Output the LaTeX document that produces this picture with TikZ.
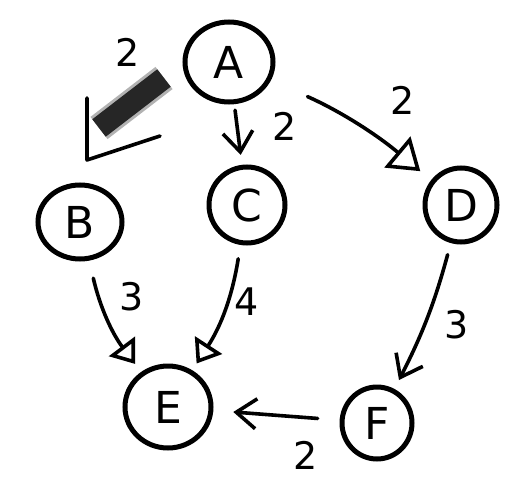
\documentclass[tikz,border=0pt]{standalone}
\usepackage{fontspec}
\setmainfont{DejaVu Sans}
\usetikzlibrary{arrows.meta,shapes.geometric,calc}
\begin{document}
\begin{tikzpicture}[x=1pt,y=-1pt,
  vert/.style={ellipse,draw,line width=5pt,inner sep=0pt,font=\fontsize{44}{44}\selectfont},
  edge/.style={line width=3.6pt,line cap=round,line join=round},
  wt/.style={font=\fontsize{38}{38}\selectfont},
  barb/.style={-{Straight Barb[length=20pt,width=30pt,line width=3.6pt]}},
  tri/.style={-{Triangle[open,length=22pt,width=32pt,line width=3.6pt]}},
  bigtri/.style={-{Triangle[open,length=30pt,width=40pt,line width=3.6pt]}},
  scribblesoft/.style={line width=28pt,draw=black!30,line cap=butt},
  scribble/.style={line width=22pt,draw=black!85,line cap=butt}]
\useasboundingbox (0,0) rectangle (521,484);
\node[vert,minimum width=88pt,minimum height=80pt] (A) at (229,62) {A};
\node[vert,minimum width=84pt,minimum height=74pt] (B) at (80,222) {B};
\node[vert,minimum width=76pt,minimum height=76pt] (C) at (247,205) {C};
\node[vert,minimum width=72pt,minimum height=74pt] (D) at (461,205) {D};
\node[vert,minimum width=86pt,minimum height=82pt] (E) at (168,407) {E};
\node[vert,minimum width=70pt,minimum height=72pt] (F) at (377,423) {F};
% A -> B (scribbled shaft and L-shaped head)
\coordinate (s1) at (164,78);
\coordinate (s2) at (99,128);
\coordinate (h1) at (87,98);
\coordinate (h0) at (87,160);
\coordinate (h2) at (160,136);
\draw[scribblesoft] (s1) -- (s2);
\draw[scribble] (s1) -- (s2);
\draw[edge] (h1) -- (h0) -- (h2);
% other edges
\draw[edge,barb,shorten <=6pt,shorten >=10pt] (A) -- (C);
\draw[edge,bigtri,shorten <=40pt,shorten >=14pt] (A) to[bend left=8] (D);
\draw[edge,tri,shorten <=18pt,shorten >=10pt] (B) to[bend right=12] (E);
\draw[edge,tri,shorten <=14pt,shorten >=8pt] (C) to[bend left=12] (E);
\draw[edge,barb,shorten <=12pt,shorten >=10pt] (D) to[bend left=6] (F);
\draw[edge,barb,shorten <=22pt,shorten >=20pt] (F) -- (E);
% weights
\node[wt] (wab) at (128,52) {2};
\node[wt] (wac) at (285,126) {2};
\node[wt] (wad) at (403,100) {2};
\node[wt] (wbe) at (132,297) {3};
\node[wt] (wce) at (247,302) {4};
\node[wt] (wdf) at (457,325) {3};
\node[wt] (wfe) at (306,455) {2};
\end{tikzpicture}
\end{document}
